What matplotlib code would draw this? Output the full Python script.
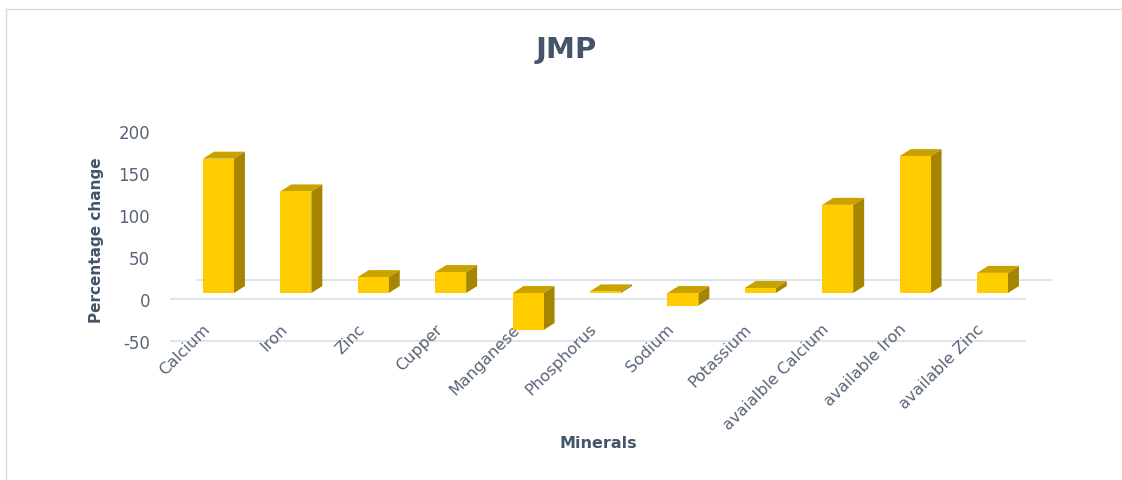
import numpy as np
import matplotlib.pyplot as plt
from matplotlib.patches import Polygon, Rectangle

# ---------------------------------------------------------------------------
# Data
# ---------------------------------------------------------------------------

minerals = ["Calcium", "Iron", "Zinc", "Cupper", "Manganese", "Phosphorus",
            "Sodium", "Potassium", "avaialble Calcium", "available Iron",
            "available Zinc"]
pct_change = [160, 121, 19, 25, -44, 2, -15, 6, 105, 163, 24]
y_ticks = [-50, 0, 50, 100, 150, 200]

# ---------------------------------------------------------------------------
# Style
# ---------------------------------------------------------------------------

front_col = "#FFCC00"
top_col = "#C9A200"
side_col = "#A68500"
grid_col = "#D9DEE6"
title_col = "#44546A"
tick_col = "#5A6478"

# pseudo-3D column geometry (data units)
bar_shift = 0.103     # front face centre offset from category position
half_w = 0.20
base = 7.1            # front face base sits slightly above the floor edge
depth_x = 0.142
depth_y = 8.3

plt.rcParams["font.family"] = "DejaVu Sans"

fig = plt.figure(figsize=(11.22, 4.81), dpi=100)
ax = fig.add_axes([158 / 1122, 121 / 481, 902 / 1122, 240 / 481])
ax.set_xlim(-0.678, 10.975)
ax.set_ylim(-71.43, 214.29)

# floor / wall edges
floor_kw = dict(color=grid_col, lw=1.2, zorder=1, clip_on=False)
ax.plot([-0.51, 10.52], [0, 0], **floor_kw)
ax.plot([-0.51, 10.52], [-50, -50], **floor_kw)
ax.plot([-0.174, 10.87], [22.6, 22.6], **floor_kw)

x = np.arange(len(minerals))
for xi, v in zip(x, pct_change):
    l = xi + bar_shift - half_w
    r = xi + bar_shift + half_w
    y0, y1 = base, base + v
    hi, lo = max(y0, y1), min(y0, y1)
    side = [(r, lo), (r + depth_x, lo + depth_y),
            (r + depth_x, hi + depth_y), (r, hi)]
    top = [(l, hi), (r, hi), (r + depth_x, hi + depth_y),
           (l + depth_x, hi + depth_y)]
    ax.add_patch(Polygon(side, closed=True, fc=side_col, ec="none", zorder=3))
    ax.add_patch(Polygon(top, closed=True, fc=top_col, ec="none", zorder=3))
    ax.add_patch(Rectangle((l, lo), r - l, hi - lo, fc=front_col,
                           ec="none", zorder=4))

# axes and labels
for s in ["top", "right", "left"]:
    ax.spines[s].set_visible(False)
ax.spines["bottom"].set_position(("data", -26))
ax.spines["bottom"].set_visible(False)

ax.set_yticks(y_ticks)
ax.set_yticklabels([str(t) for t in y_ticks])
ax.tick_params(axis="y", length=0, pad=5.8, labelsize=12, labelcolor=tick_col)

ax.set_xticks(x + 0.03)
ax.set_xticklabels(minerals, rotation=45, ha="right")
ax.tick_params(axis="x", length=0, pad=0, labelsize=11.5, labelcolor=tick_col)

fig.text(566 / 1122, 1 - 50 / 481, "JMP", ha="center", va="center",
         fontsize=21, fontweight="bold", color=title_col)
fig.text(97 / 1122, 1 - 240 / 481, "Percentage change", ha="center",
         va="center", rotation=90, fontsize=11, fontweight="bold",
         color=title_col)
fig.text(598 / 1122, 1 - 444 / 481, "Minerals", ha="center", va="center",
         fontsize=11.5, fontweight="bold", color=title_col)

# chart area border
fig.patches.append(Rectangle((6 / 1122, -0.01), 1.02, 1 - 10 / 481 + 0.01,
                             transform=fig.transFigure, fill=False,
                             ec="#D9D9D9", lw=1.0))

fig.savefig("out.png", dpi=100)
